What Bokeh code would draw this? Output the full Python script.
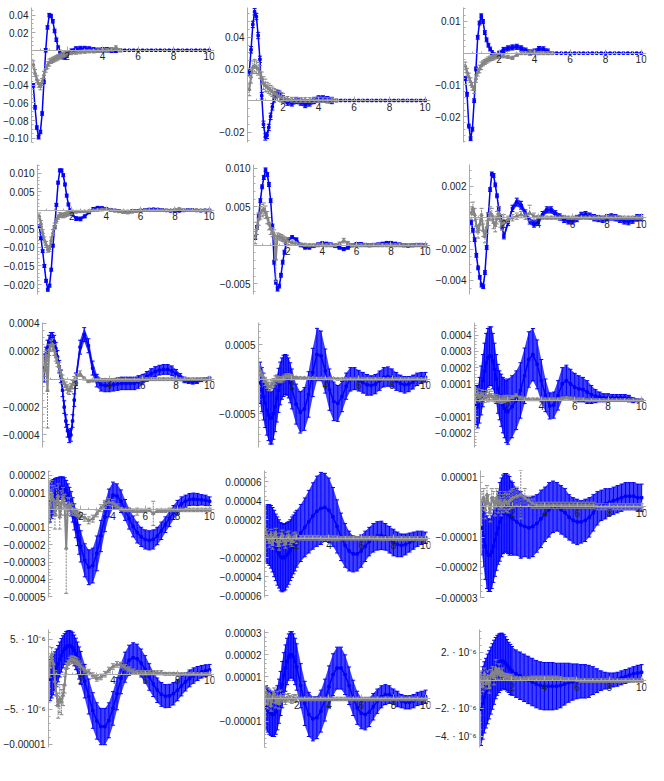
import numpy as np
from bokeh.plotting import figure
from bokeh.layouts import column, row
from bokeh.models import FixedTicker, Range1d
from bokeh.embed import file_html
from bokeh.resources import INLINE

N = float("nan")

X = [0.1, 0.2, 0.3, 0.4, 0.5, 0.6, 0.7, 0.8, 0.9, 1.0,
     1.1, 1.2, 1.3, 1.4, 1.5, 1.6, 1.7, 1.8, 1.9, 2.0,
     2.25, 2.5, 2.75, 3.0, 3.25, 3.5, 3.75, 4.0, 4.25, 4.5,
     4.75, 5.0, 5.25, 5.5, 5.75, 6.0, 6.25, 6.5, 6.75, 7.0,
     7.25, 7.5, 7.75, 8.0, 8.25, 8.5, 8.75, 9.0, 9.25, 9.5,
     9.75, 10.0]
X_TICKS = [2, 4, 6, 8, 10]

# ---------------- panel 1 (units 0.01)
P1_BLUE = [-4.0, -6.5, -8.8, -9.9, -9.3, -7.2, -3.6, 0.0, 2.6, 4.0,
           3.9, 3.3, 2.2, 1.2, 0.3, -0.3, -0.6, -0.7, -0.7, -0.5,
           -0.1, 0.15, 0.2, 0.2, 0.15, 0.05, 0.0, 0.05, 0.05, 0.0,
           0.0, 0.0, 0.0, 0.0, 0.0, 0.0, 0.0, 0.0, 0.0, 0.0,
           0.0, 0.0, 0.0, 0.0, 0.0, 0.0, 0.0, 0.0, 0.0, 0.0,
           0.0, 0.0]
P1_BLUE_ERR = [0.2, 0.2, 0.2, 0.2, 0.2, 0.2, 0.2, 0.2, 0.2, 0.2,
               0.2, 0.2, 0.2, 0.2, 0.2, 0.3, 0.3, 0.3, 0.3, 0.3,
               0.25, 0.25, 0.25, 0.25, 0.25, 0.25, 0.25, 0.25, 0.25, 0.25,
               0.25, 0.0, 0.0, 0.0, 0.0, 0.0, 0.0, 0.0, 0.0, 0.0,
               0.0, 0.0, 0.0, 0.0, 0.0, 0.0, 0.0, 0.0, 0.0, 0.0,
               0.0, 0.0]
P1_GRAY = [-1.6, -2.6, -3.3, -3.8, -4.1, -3.6, -2.8, -2.1, -1.7, -1.4,
           -1.2, -1.1, -1.0, -0.9, -0.8, -0.7, -0.6, -0.5, -0.4, -0.4,
           -0.3, -0.25, -0.2, -0.15, -0.1, -0.1, -0.05, 0.0, 0.0, 0.1,
           0.3, 0.0, N, N, N, N, N, N, N, N,
           N, N, N, N, N, N, N, N, N, N,
           N, N]
P1_GRAY_ERR = [0.4, 0.4, 0.4, 0.4, 0.4, 0.4, 0.4, 0.4, 0.4, 0.4,
               0.3, 0.3, 0.3, 0.3, 0.3, 0.3, 0.3, 0.3, 0.3, 0.3,
               0.2, 0.2, 0.2, 0.2, 0.2, 0.2, 0.2, 0.2, 0.2, 0.2,
               0.2, 0.2, N, N, N, N, N, N, N, N,
               N, N, N, N, N, N, N, N, N, N,
               N, N]
P1_YTICKS = [4, 2, -2, -4, -6, -8, -10]
P1_YLABELS = ["0.04", "0.02", "−0.02", "−0.04", "−0.06", "−0.08", "−0.10"]
P1_YRANGE = (-10.5, 4.87)

# ---------------- panel 2 (units 0.01)
P2_BLUE = [1.8, 3.2, 4.8, 5.6, 5.3, 4.1, 2.6, 0.3, -1.5, -2.3,
           -2.2, -1.7, -1.0, -0.4, 0.1, 0.35, 0.45, 0.4, 0.25, 0.1,
           -0.1, -0.15, 0.0, -0.1, -0.25, -0.15, 0.0, 0.1, 0.1, 0.05,
           0.0, 0.0, 0.0, 0.0, 0.0, 0.0, 0.0, 0.0, 0.0, 0.0,
           0.0, 0.0, 0.0, 0.0, 0.0, 0.0, 0.0, 0.0, 0.0, 0.0,
           0.0, 0.0]
P2_BLUE_ERR = [0.2, 0.2, 0.2, 0.2, 0.2, 0.2, 0.2, 0.2, 0.2, 0.2,
               0.2, 0.2, 0.2, 0.2, 0.2, 0.2, 0.2, 0.2, 0.2, 0.2,
               0.2, 0.2, 0.2, 0.2, 0.2, 0.2, 0.2, 0.2, 0.2, 0.2,
               0.2, 0.0, 0.0, 0.0, 0.0, 0.0, 0.0, 0.0, 0.0, 0.0,
               0.0, 0.0, 0.0, 0.0, 0.0, 0.0, 0.0, 0.0, 0.0, 0.0,
               0.0, 0.0]
P2_GRAY = [0.7, 1.5, 2.1, 2.2, 2.1, 2.0, 1.8, 1.4, 1.1, 0.95,
           0.85, 0.75, 0.65, 0.55, 0.45, 0.4, 0.3, 0.25, 0.2, 0.15,
           0.1, 0.05, 0.03, 0.03, 0.03, 0.03, 0.03, 0.03, 0.03, 0.03,
           0.03, 0.0, N, N, N, N, N, N, N, N,
           N, N, N, N, N, N, N, N, N, N,
           N, N]
P2_GRAY_ERR = [0.4, 0.4, 0.4, 0.4, 0.4, 0.4, 0.4, 0.4, 0.4, 0.4,
               0.3, 0.3, 0.3, 0.3, 0.3, 0.3, 0.3, 0.3, 0.3, 0.3,
               0.15, 0.15, 0.15, 0.15, 0.15, 0.15, 0.15, 0.15, 0.15, 0.15,
               0.15, 0.1, N, N, N, N, N, N, N, N,
               N, N, N, N, N, N, N, N, N, N,
               N, N]
P2_YTICKS = [4, 2, -2]
P2_YLABELS = ["0.04", "0.02", "−0.02"]
P2_YRANGE = (-2.65, 5.87)

# ---------------- panel 3 (units 0.01)
P3_BLUE = [-0.8, -1.3, -2.3, -2.7, -2.4, -1.5, -0.5, 0.5, 0.95, 1.18,
           1.0, 0.65, 0.42, 0.25, 0.13, 0.02, -0.05, -0.1, -0.07, 0.0,
           0.1, 0.15, 0.18, 0.2, 0.15, 0.08, 0.02, 0.05, 0.13, 0.12,
           0.05, 0.0, 0.0, 0.0, 0.0, 0.0, 0.0, 0.0, 0.0, 0.0,
           0.0, 0.0, 0.0, 0.0, 0.0, 0.0, 0.0, 0.0, 0.0, 0.0,
           0.0, 0.0]
P3_BLUE_ERR = [0.06, 0.06, 0.06, 0.06, 0.06, 0.06, 0.06, 0.06, 0.06, 0.06,
               0.06, 0.06, 0.06, 0.06, 0.06, 0.06, 0.06, 0.06, 0.06, 0.06,
               0.08, 0.08, 0.08, 0.08, 0.08, 0.08, 0.08, 0.08, 0.08, 0.08,
               0.08, 0.0, 0.0, 0.0, 0.0, 0.0, 0.0, 0.0, 0.0, 0.0,
               0.0, 0.0, 0.0, 0.0, 0.0, 0.0, 0.0, 0.0, 0.0, 0.0,
               0.0, 0.0]
P3_GRAY = [-0.4, -0.6, -0.75, -0.9, -1.05, -1.15, -0.8, -0.6, -0.5, -0.4,
           -0.32, -0.28, -0.24, -0.2, -0.17, -0.15, -0.13, -0.1, -0.09, -0.08,
           -0.1, -0.12, -0.15, -0.05, 0.0, 0.0, 0.02, 0.02, 0.0, 0.0,
           0.0, 0.0, N, N, N, N, N, N, N, N,
           N, N, N, N, N, N, N, N, N, N,
           N, N]
P3_GRAY_ERR = [0.12, 0.12, 0.12, 0.12, 0.12, 0.12, 0.12, 0.12, 0.12, 0.12,
               0.08, 0.08, 0.08, 0.08, 0.08, 0.08, 0.08, 0.08, 0.08, 0.08,
               0.05, 0.05, 0.05, 0.05, 0.05, 0.05, 0.05, 0.05, 0.05, 0.05,
               0.05, 0.05, N, N, N, N, N, N, N, N,
               N, N, N, N, N, N, N, N, N, N,
               N, N]
P3_YTICKS = [1, -1, -2]
P3_YLABELS = ["0.01", "−0.01", "−0.02"]
P3_YRANGE = (-2.82, 1.44)

# ---------------- panel 4 (units 0.001)
P4_BLUE = [-4.3, -7.5, -11.0, -15.0, -19.0, -21.4, -20.3, -16.0, -9.5, -4.5,
           1.5, 7.5, 10.8, 10.8, 9.5, 7.0, 4.0, 1.6, 0.0, -1.0,
           -2.2, -2.3, -1.6, -0.5, 0.4, 0.7, 0.6, 0.4, 0.2, 0.0,
           -0.2, -0.3, -0.3, -0.2, -0.1, 0.0, 0.1, 0.25, 0.3, 0.25,
           0.1, 0.0, -0.1, -0.15, -0.1, 0.0, 0.1, 0.1, 0.0, -0.05,
           0.0, 0.0]
P4_BLUE_ERR = [0.4, 0.4, 0.4, 0.4, 0.4, 0.4, 0.4, 0.4, 0.4, 0.4,
               0.4, 0.4, 0.4, 0.4, 0.4, 0.4, 0.4, 0.4, 0.4, 0.4,
               0.5, 0.5, 0.4, 0.4, 0.4, 0.4, 0.4, 0.4, 0.3, 0.3,
               0.3, 0.3, 0.3, 0.3, 0.3, 0.3, 0.3, 0.3, 0.3, 0.3,
               0.3, 0.3, 0.3, 0.3, 0.3, 0.3, 0.3, 0.3, 0.3, 0.3,
               0.3, 0.3]
P4_GRAY = [-1.5, -3.5, -6.0, -8.0, -9.2, -10.5, -10.3, -8.0, -6.0, -4.2,
           -2.8, -1.8, -1.2, -1.3, -1.4, -1.2, -1.0, -0.8, -0.6, -0.5,
           -0.4, -0.3, -0.3, -0.2, 0.0, 0.1, 0.2, 0.3, 0.1, -0.1,
           -0.3, -0.5, -0.6, -0.4, -0.2, -0.1, 0.0, 0.0, 0.0, 0.0,
           0.0, 0.0, 0.0, 0.2, 0.4, 0.1, 0.0, 0.0, 0.0, 0.0,
           0.0, 0.0]
P4_GRAY_ERR = [0.8, 0.8, 0.8, 0.8, 0.8, 0.8, 0.8, 0.8, 0.8, 0.8,
               0.6, 0.6, 0.6, 0.6, 0.6, 0.6, 0.6, 0.6, 0.6, 0.6,
               0.3, 0.3, 0.3, 0.3, 0.3, 0.3, 0.3, 0.3, 0.3, 0.3,
               0.3, 0.3, 0.3, 0.3, 0.3, 0.3, 0.3, 0.3, 0.3, 0.3,
               0.3, 0.3, 0.3, 0.3, 0.3, 0.3, 0.3, 0.3, 0.3, 0.3,
               0.3, 0.3]
P4_YTICKS = [10, 5, -5, -10, -15, -20]
P4_YLABELS = ["0.010", "0.005", "−0.005", "−0.010", "−0.015", "−0.020"]
P4_YRANGE = (-22.7, 12.4)

# ---------------- panel 5 (units 0.001)
P5_BLUE = [1.0, 2.3, 3.8, 5.8, 7.6, 8.8, 9.8, 9.2, 7.9, 5.8,
           2.5, -2.2, -4.8, -5.7, -5.3, -3.9, -2.2, -0.9, 0.2, 0.7,
           1.05, 0.75, 0.0, -0.3, -0.3, -0.1, 0.1, 0.25, 0.2, 0.1,
           -0.1, -0.3, -0.5, -0.3, 0.0, 0.15, 0.15, 0.05, 0.0, 0.05,
           0.1, 0.2, 0.3, 0.3, 0.2, 0.1, 0.0, -0.05, 0.0, 0.05,
           0.05, 0.0]
P5_BLUE_ERR = [0.25, 0.25, 0.25, 0.25, 0.25, 0.25, 0.25, 0.25, 0.25, 0.25,
               0.25, 0.25, 0.25, 0.25, 0.25, 0.25, 0.25, 0.25, 0.25, 0.25,
               0.2, 0.2, 0.2, 0.2, 0.2, 0.2, 0.2, 0.2, 0.2, 0.2,
               0.2, 0.2, 0.2, 0.2, 0.2, 0.2, 0.2, 0.2, 0.2, 0.2,
               0.2, 0.2, 0.2, 0.2, 0.2, 0.2, 0.2, 0.2, 0.2, 0.2,
               0.2, 0.2]
P5_GRAY = [1.0, 2.2, 3.4, 4.2, 4.5, 4.7, 4.3, 3.6, 2.8, 2.2,
           1.7, 1.4, -1.8, 1.2, 1.1, 1.0, 0.9, 0.7, 0.6, 0.5,
           0.35, 0.2, 0.1, 0.05, 0.0, 0.0, 0.0, 0.05, 0.0, 0.0,
           0.0, 0.2, 0.6, 0.3, 0.0, 0.0, 0.0, 0.0, 0.0, 0.0,
           0.0, 0.0, 0.0, 0.0, 0.0, 0.0, 0.0, 0.0, 0.0, 0.0,
           0.0, 0.0]
P5_GRAY_ERR = [0.8, 0.8, 0.8, 0.8, 0.8, 0.8, 0.8, 0.8, 0.8, 0.8,
               0.6, 0.6, 2.9, 0.4, 0.4, 0.4, 0.4, 0.4, 0.4, 0.4,
               0.2, 0.2, 0.2, 0.2, 0.2, 0.2, 0.2, 0.2, 0.2, 0.2,
               0.2, 0.2, 0.3, 0.2, 0.2, 0.2, 0.2, 0.2, 0.2, 0.2,
               0.2, 0.2, 0.2, 0.2, 0.2, 0.2, 0.2, 0.2, 0.2, 0.2,
               0.2, 0.2]
P5_YTICKS = [10, 5, -5]
P5_YLABELS = ["0.010", "0.005", "−0.005"]
P5_YRANGE = (-6.4, 10.5)

# ---------------- panel 6 (units 0.001)
P6_BLUE = [-0.3, -0.8, -1.4, -2.4, -3.2, -3.8, -4.3, -4.4, -3.5, -1.9,
           0.2, 1.8, 2.8, 2.7, 2.1, 1.4, 0.6, 0.0, -0.6, -1.2,
           -0.3, 0.6, 1.0, 0.8, 0.3, -0.2, -0.4, -0.3, 0.2, 0.5,
           0.5, 0.25, 0.05, -0.1, -0.2, -0.2, -0.05, 0.15, 0.2, 0.1,
           0.0, -0.05, -0.1, 0.0, 0.05, 0.0, -0.1, -0.2, -0.25, -0.15,
           0.0, 0.0]
P6_BLUE_ERR = [0.12, 0.12, 0.12, 0.12, 0.12, 0.12, 0.12, 0.12, 0.12, 0.12,
               0.12, 0.12, 0.12, 0.12, 0.12, 0.12, 0.12, 0.12, 0.12, 0.15,
               0.2, 0.2, 0.25, 0.25, 0.2, 0.2, 0.2, 0.2, 0.2, 0.2,
               0.2, 0.2, 0.2, 0.2, 0.2, 0.2, 0.2, 0.2, 0.2, 0.2,
               0.2, 0.2, 0.2, 0.2, 0.2, 0.2, 0.2, 0.2, 0.2, 0.2,
               0.2, 0.2]
P6_GRAY = [0.3, 0.6, 0.2, -0.5, -0.9, -0.4, 0.2, -0.8, -1.2, -0.6,
           -0.1, 0.3, 0.2, -0.3, -0.5, 0.0, 0.3, -0.2, -0.4, -0.2,
           -0.1, 0.0, 0.1, 0.2, 0.1, 0.3, 0.1, 0.05, 0.0, 0.0,
           0.0, 0.0, 0.0, 0.05, 0.0, 0.0, 0.0, 0.0, 0.0, 0.0,
           0.0, 0.0, 0.0, 0.05, 0.0, 0.0, 0.0, 0.0, 0.0, 0.0,
           0.0, 0.0]
P6_GRAY_ERR = [0.4, 0.4, 0.4, 0.4, 0.4, 0.4, 0.4, 0.4, 0.4, 0.4,
               0.4, 0.4, 0.4, 0.4, 0.4, 0.4, 0.4, 0.4, 0.4, 0.4,
               0.2, 0.2, 0.2, 0.2, 0.2, 0.5, 0.2, 0.1, 0.1, 0.1,
               0.1, 0.1, 0.1, 0.1, 0.1, 0.1, 0.1, 0.1, 0.1, 0.1,
               0.1, 0.1, 0.1, 0.1, 0.1, 0.1, 0.1, 0.1, 0.1, 0.1,
               0.1, 0.1]
P6_YTICKS = [2, -2, -4]
P6_YLABELS = ["0.002", "−0.002", "−0.004"]
P6_YRANGE = (-4.9, 3.4)

# ---------------- panel 7 (units 0.0001)
P7_BLUE = [0.8, 1.5, 2.2, 2.7, 2.9, 2.9, 2.7, 2.2, 1.6, 0.9,
           0.2, -0.8, -2.0, -3.0, -3.7, -4.1, -4.0, -3.0, -1.5, 0.0,
           2.3, 3.2, 2.4, 0.8, -0.1, -0.4, -0.45, -0.45, -0.4, -0.35,
           -0.3, -0.3, -0.3, -0.3, -0.2, 0.0, 0.2, 0.4, 0.55, 0.65,
           0.7, 0.7, 0.6, 0.4, 0.15, -0.05, -0.15, -0.2, -0.15, -0.05,
           0.0, 0.05]
P7_BLUE_ERR = [1.0, 0.8, 0.6, 0.45, 0.45, 0.45, 0.45, 0.45, 0.45, 0.45,
               0.45, 0.45, 0.45, 0.45, 0.45, 0.45, 0.45, 0.45, 0.45, 0.45,
               0.5, 0.5, 0.5, 0.5, 0.45, 0.45, 0.45, 0.45, 0.45, 0.45,
               0.45, 0.45, 0.45, 0.45, 0.45, 0.35, 0.35, 0.35, 0.35, 0.35,
               0.35, 0.35, 0.35, 0.3, 0.25, 0.2, 0.15, 0.15, 0.15, 0.12,
               0.1, 0.1]
P7_GRAY = [0.6, 1.7, -0.8, 2.1, 2.4, 2.5, 2.1, 1.6, 1.2, 0.9,
           0.4, 0.0, -0.3, -0.5, -0.7, -0.8, -0.6, -0.4, -0.1, 0.1,
           0.4, 0.05, -0.15, -0.1, -0.05, -0.05, -0.05, -0.05, -0.05, -0.05,
           -0.05, -0.05, -0.05, -0.05, -0.05, 0.0, 0.0, 0.0, 0.0, 0.0,
           0.0, 0.0, 0.0, 0.0, 0.0, 0.0, 0.0, 0.0, 0.0, 0.0,
           0.0, 0.0]
P7_GRAY_ERR = [0.4, 0.4, 2.7, 0.4, 0.4, 0.4, 0.4, 0.3, 0.3, 0.3,
               0.3, 0.3, 0.3, 0.3, 0.3, 0.3, 0.3, 0.3, 0.3, 0.3,
               0.2, 0.1, 0.1, 0.1, 0.1, 0.1, 0.1, 0.1, 0.1, 0.1,
               0.1, 0.1, 0.1, 0.1, 0.1, 0.1, 0.1, 0.1, 0.1, 0.1,
               0.1, 0.1, 0.1, 0.1, 0.1, 0.1, 0.1, 0.1, 0.1, 0.1,
               0.1, 0.1]
P7_YTICKS = [4, 2, -2, -4]
P7_YLABELS = ["0.0004", "0.0002", "−0.0002", "−0.0004"]
P7_YRANGE = (-4.9, 4.07)

# ---------------- panel 8 (units 0.0001)
P8_BLUE = [-0.5, -1.5, -2.5, -3.5, -4.5, -5.2, -5.6, -5.6, -5.0, -4.0,
           -2.8, -1.6, -0.6, 0.1, 0.5, 0.7, 0.6, 0.2, -0.5, -1.4,
           -3.6, -4.8, -4.3, -2.2, 1.0, 3.6, 3.4, 1.2, -1.5, -3.2,
           -3.5, -2.5, -1.0, 0.0, 0.1, -0.2, -0.5, -0.8, -0.9, -0.7,
           -0.2, 0.3, 0.4, 0.2, -0.3, -0.6, -0.8, -0.7, -0.4, 0.0,
           0.2, 0.3]
P8_BLUE_ERR = [3.0, 3.2, 3.4, 3.5, 3.6, 3.7, 3.8, 3.8, 3.7, 3.6,
               3.4, 3.2, 3.1, 3.0, 3.0, 2.9, 2.9, 2.9, 2.9, 2.9,
               2.9, 3.0, 3.1, 3.3, 3.5, 3.8, 3.6, 3.2, 3.0, 2.8,
               2.6, 2.2, 1.9, 1.7, 1.6, 1.5, 1.5, 1.5, 1.4, 1.4,
               1.4, 1.4, 1.4, 1.3, 1.3, 1.2, 1.2, 1.1, 1.0, 0.9,
               0.8, 0.7]
P8_GRAY = [1.2, 0.6, 0.2, -0.3, -0.7, -1.0, -1.1, -0.8, -0.5, -0.1,
           0.1, 0.0, -0.1, 0.0, 0.2, 0.35, 0.4, 0.4, 0.35, 0.3,
           0.25, 0.2, 0.2, 0.15, 0.15, 0.1, 0.1, 0.1, 0.1, 0.1,
           0.05, 0.05, 0.05, 0.05, 0.05, 0.05, 0.05, 0.05, 0.05, 0.05,
           0.05, 0.05, 0.05, 0.05, 0.05, 0.05, 0.05, 0.05, 0.05, 0.05,
           0.05, 0.05]
P8_GRAY_ERR = [0.6, 0.6, 0.6, 0.6, 0.6, 0.6, 0.6, 0.6, 0.6, 0.6,
               0.4, 0.4, 0.4, 0.4, 0.4, 0.4, 0.4, 0.4, 0.4, 0.4,
               0.15, 0.15, 0.15, 0.15, 0.15, 0.15, 0.15, 0.15, 0.15, 0.15,
               0.15, 0.15, 0.15, 0.15, 0.15, 0.15, 0.15, 0.15, 0.15, 0.15,
               0.15, 0.15, 0.15, 0.15, 0.15, 0.15, 0.15, 0.15, 0.15, 0.15,
               0.15, 0.15]
P8_YTICKS = [5, -5]
P8_YLABELS = ["0.0005", "−0.0005"]
P8_YRANGE = (-9.9, 8.25)

# ---------------- panel 9 (units 0.0001)
P9_BLUE = [-0.3, -0.4, 0.0, 0.6, 1.2, 1.8, 2.3, 2.6, 2.7, 2.7,
           2.4, 1.9, 1.3, 0.7, 0.3, 0.0, -0.3, -0.5, -0.7, -0.7,
           -0.4, 0.0, 0.6, 1.5, 2.5, 2.8, 2.2, 1.2, 0.3, -0.35,
           -0.3, 0.3, 1.0, 1.2, 1.0, 0.8, 0.7, 0.65, 0.5, 0.35,
           0.25, 0.2, 0.15, 0.15, 0.15, 0.15, 0.15, 0.15, 0.1, 0.0,
           0.0, 0.0]
P9_BLUE_ERR = [1.2, 1.3, 1.4, 1.5, 1.6, 1.7, 1.8, 1.8, 1.8, 1.8,
               1.7, 1.6, 1.5, 1.5, 1.5, 1.6, 1.7, 1.8, 1.9, 2.0,
               1.9, 1.8, 1.7, 1.7, 1.7, 1.6, 1.5, 1.3, 1.0, 0.8,
               0.8, 0.9, 1.0, 0.95, 0.9, 0.85, 0.8, 0.75, 0.7, 0.55,
               0.4, 0.3, 0.25, 0.25, 0.2, 0.2, 0.2, 0.2, 0.2, 0.15,
               0.1, 0.05]
P9_GRAY = [0.3, 0.4, 0.2, 0.35, 0.3, 0.15, 0.3, 0.2, 0.35, 0.25,
           0.2, 0.1, 0.15, 0.05, 0.1, 0.0, 0.05, 0.1, 0.05, 0.1,
           0.2, 0.3, 0.15, 0.1, 0.05, 0.05, 0.05, 0.05, 0.05, 0.05,
           0.05, 0.05, 0.1, 0.15, 0.1, 0.05, 0.05, 0.05, 0.0, 0.0,
           0.0, 0.0, 0.0, 0.0, 0.0, 0.0, 0.0, 0.0, 0.0, 0.0,
           0.0, 0.0]
P9_GRAY_ERR = [0.3, 0.3, 0.3, 0.3, 0.3, 0.3, 0.3, 0.3, 0.3, 0.3,
               0.2, 0.2, 0.2, 0.2, 0.2, 0.2, 0.2, 0.2, 0.2, 0.2,
               0.08, 0.08, 0.08, 0.08, 0.08, 0.08, 0.08, 0.08, 0.08, 0.08,
               0.08, 0.08, 0.08, 0.08, 0.08, 0.08, 0.08, 0.08, 0.08, 0.08,
               0.08, 0.08, 0.08, 0.08, 0.08, 0.08, 0.08, 0.08, 0.08, 0.08,
               0.08, 0.08]
P9_YTICKS = [4, 3, 2, 1, -1, -2]
P9_YLABELS = ["0.0004", "0.0003", "0.0002", "0.0001", "−0.0001", "−0.0002"]
P9_YRANGE = (-2.9, 4.77)

# ---------------- panel 10 (units 0.00001)
P10_BLUE = [0.45, 0.6, 0.75, 0.9, 1.05, 1.15, 1.25, 1.3, 1.3, 1.25,
            1.1, 0.9, 0.65, 0.35, 0.0, -0.4, -0.8, -1.25, -1.7, -2.1,
            -2.9, -3.3, -3.2, -2.5, -1.5, -0.4, 0.4, 0.85, 0.8, 0.5,
            0.0, -0.5, -0.95, -1.3, -1.55, -1.7, -1.75, -1.7, -1.5, -1.2,
            -0.85, -0.5, -0.15, 0.15, 0.35, 0.5, 0.6, 0.62, 0.6, 0.58,
            0.55, 0.5]
P10_BLUE_ERR = [1.15, 1.1, 1.0, 0.9, 0.8, 0.7, 0.65, 0.6, 0.6, 0.6,
                0.6, 0.6, 0.65, 0.7, 0.7, 0.75, 0.8, 0.8, 0.85, 0.9,
                0.95, 1.0, 1.0, 1.0, 0.9, 0.85, 0.8, 0.75, 0.7, 0.65,
                0.6, 0.6, 0.6, 0.6, 0.55, 0.55, 0.55, 0.55, 0.5, 0.5,
                0.45, 0.45, 0.4, 0.4, 0.4, 0.35, 0.35, 0.35, 0.35, 0.3,
                0.3, 0.25]
P10_GRAY = [0.3, 0.9, 0.6, -0.3, 0.5, 0.8, -0.4, 0.4, 0.7, 0.3,
            -2.2, 0.2, 0.3, 0.1, 0.0, -0.1, -0.15, -0.2, -0.3, -0.35,
            -0.45, -0.6, -0.5, -0.2, 0.1, 0.35, 0.45, 0.4, 0.2, 0.05,
            0.0, 0.0, -0.05, -0.1, -0.05, -0.05, 0.0, -0.2, -0.05, -0.05,
            -0.05, 0.0, 0.0, 0.0, 0.0, 0.0, 0.0, 0.0, 0.0, 0.0,
            0.0, 0.0]
P10_GRAY_ERR = [0.8, 0.8, 0.8, 0.8, 0.8, 0.7, 0.7, 0.7, 0.6, 0.6,
                2.6, 0.5, 0.4, 0.3, 0.3, 0.2, 0.2, 0.2, 0.2, 0.2,
                0.2, 0.2, 0.2, 0.2, 0.2, 0.2, 0.2, 0.2, 0.15, 0.1,
                0.1, 0.1, 0.1, 0.2, 0.1, 0.1, 0.1, 0.7, 0.1, 0.1,
                0.1, 0.1, 0.1, 0.1, 0.1, 0.1, 0.1, 0.1, 0.1, 0.1,
                0.1, 0.1]
P10_YTICKS = [2, 1, -1, -2, -3, -4, -5]
P10_YLABELS = ["0.00002", "0.00001", "−0.00001", "−0.00002", "−0.00003", "−0.00004", "−0.00005"]
P10_YRANGE = (-5.04, 2.27)

# ---------------- panel 11 (units 0.00001)
P11_BLUE = [0.5, 0.5, 0.4, 0.2, -0.1, -0.5, -0.9, -1.3, -1.6, -1.9,
            -2.0, -2.0, -1.9, -1.7, -1.5, -1.2, -0.9, -0.6, -0.3, 0.0,
            0.6, 1.2, 1.8, 2.4, 2.9, 3.2, 3.3, 3.0, 2.3, 1.3,
            0.2, -0.7, -1.3, -1.6, -1.6, -1.3, -0.8, -0.3, 0.1, 0.3,
            0.35, 0.2, -0.1, -0.4, -0.6, -0.7, -0.6, -0.4, -0.2, 0.0,
            0.1, 0.1]
P11_BLUE_ERR = [3.0, 3.1, 3.2, 3.3, 3.4, 3.5, 3.5, 3.6, 3.6, 3.6,
                3.6, 3.5, 3.5, 3.4, 3.3, 3.2, 3.2, 3.1, 3.1, 3.0,
                3.0, 3.1, 3.3, 3.5, 3.7, 3.8, 3.6, 3.4, 3.1, 2.8,
                2.5, 2.3, 2.1, 1.9, 1.8, 1.7, 1.6, 1.5, 1.5, 1.5,
                1.5, 1.4, 1.4, 1.4, 1.3, 1.2, 1.1, 1.0, 0.9, 0.8,
                0.7, 0.6]
P11_GRAY = [0.6, 0.3, -0.4, 0.5, -0.6, 0.2, 0.6, -0.3, -0.7, 0.1,
            0.4, -0.2, -0.5, 0.2, 0.3, -0.1, -0.3, 0.1, 0.2, 0.0,
            0.1, 0.1, 0.1, 0.1, 0.1, 0.05, 0.05, 0.05, 0.05, 0.05,
            0.05, 0.05, 0.05, 0.05, 0.05, 0.05, 0.05, 0.05, 0.05, 0.05,
            0.0, 0.0, 0.0, 0.0, 0.0, 0.0, 0.0, 0.0, 0.0, 0.0,
            0.0, 0.0]
P11_GRAY_ERR = [0.5, 0.5, 0.5, 0.5, 0.5, 0.5, 0.5, 0.5, 0.5, 0.5,
                0.5, 0.5, 0.5, 0.5, 0.5, 0.5, 0.5, 0.5, 0.5, 0.5,
                0.25, 0.25, 0.25, 0.25, 0.25, 0.25, 0.25, 0.25, 0.25, 0.25,
                0.2, 0.2, 0.2, 0.2, 0.2, 0.2, 0.2, 0.2, 0.2, 0.2,
                0.2, 0.2, 0.2, 0.2, 0.2, 0.2, 0.2, 0.2, 0.2, 0.2,
                0.2, 0.2]
P11_YTICKS = [6, 4, 2, -2, -4, -6]
P11_YLABELS = ["0.00006", "0.00004", "0.00002", "−0.00002", "−0.00004", "−0.00006"]
P11_YRANGE = (-6.2, 7.2)

# ---------------- panel 12 (units 0.00001)
P12_BLUE = [-0.7, -1.0, -1.3, -1.5, -1.6, -1.6, -1.5, -1.3, -1.1, -0.9,
            -0.7, -0.5, -0.35, -0.25, -0.2, -0.2, -0.25, -0.3, -0.35, -0.4,
            -0.5, -0.6, -0.65, -0.7, -0.65, -0.55, -0.4, -0.25, -0.1, 0.0,
            0.0, -0.1, -0.2, -0.35, -0.45, -0.5, -0.5, -0.45, -0.35, -0.2,
            -0.05, 0.05, 0.1, 0.15, 0.2, 0.25, 0.3, 0.35, 0.35, 0.35,
            0.3, 0.3]
P12_BLUE_ERR = [0.9, 1.0, 1.1, 1.2, 1.2, 1.2, 1.2, 1.2, 1.2, 1.2,
                1.2, 1.3, 1.3, 1.3, 1.3, 1.3, 1.3, 1.3, 1.2, 1.2,
                1.1, 1.1, 1.0, 1.0, 1.0, 0.95, 0.95, 0.9, 0.9, 0.85,
                0.8, 0.8, 0.8, 0.75, 0.75, 0.75, 0.7, 0.7, 0.65, 0.6,
                0.55, 0.5, 0.5, 0.45, 0.45, 0.45, 0.45, 0.45, 0.45, 0.45,
                0.45, 0.45]
P12_GRAY = [0.2, 0.3, -0.1, 0.4, 0.1, -0.2, 0.3, 0.2, 0.0, 0.3,
            0.1, 0.2, 0.0, 0.1, 0.2, 0.15, 0.1, 0.2, 0.25, 0.3,
            0.35, 0.4, 0.3, 0.2, 0.1, 0.05, 0.05, 0.05, 0.05, 0.05,
            0.05, 0.05, 0.05, 0.05, 0.05, 0.05, 0.05, 0.05, 0.05, 0.05,
            0.0, 0.0, 0.0, 0.0, 0.0, 0.0, 0.0, 0.0, 0.0, 0.0,
            0.0, 0.0]
P12_GRAY_ERR = [0.3, 0.3, 0.3, 0.3, 0.3, 0.3, 0.3, 0.3, 0.3, 0.3,
                0.3, 0.3, 0.3, 0.3, 0.3, 0.3, 0.3, 0.3, 0.3, 0.3,
                0.3, 0.8, 0.3, 0.15, 0.15, 0.1, 0.1, 0.1, 0.1, 0.1,
                0.1, 0.1, 0.1, 0.1, 0.1, 0.1, 0.1, 0.1, 0.1, 0.1,
                0.1, 0.1, 0.1, 0.1, 0.1, 0.1, 0.1, 0.1, 0.1, 0.1,
                0.1, 0.1]
P12_YTICKS = [1, -1, -2, -3]
P12_YLABELS = ["0.00001", "−0.00001", "−0.00002", "−0.00003"]
P12_YRANGE = (-3.0, 1.2)

# ---------------- panel 13 (units 1e-6)
P13_BLUE = [-0.85, -0.5, -0.1, 0.4, 0.9, 1.5, 2.1, 2.7, 3.2, 3.6,
            3.9, 4.05, 4.1, 4.0, 3.8, 3.4, 2.9, 2.3, 1.6, 0.9,
            -1.0, -3.2, -5.2, -6.7, -7.5, -7.5, -6.6, -4.9, -2.8, -0.6,
            1.0, 2.0, 2.35, 2.2, 1.6, 0.7, -0.4, -1.4, -2.3, -2.9,
            -3.15, -3.1, -2.8, -2.3, -1.7, -1.1, -0.6, -0.2, 0.1, 0.35,
            0.5, 0.6]
P13_BLUE_ERR = [2.95, 2.9, 2.85, 2.8, 2.7, 2.6, 2.5, 2.4, 2.3, 2.2,
                2.2, 2.15, 2.15, 2.15, 2.2, 2.2, 2.25, 2.3, 2.3, 2.35,
                2.4, 2.5, 2.55, 2.6, 2.6, 2.6, 2.5, 2.4, 2.3, 2.2,
                2.15, 2.15, 2.15, 2.1, 2.0, 1.95, 1.9, 1.8, 1.75, 1.7,
                1.65, 1.65, 1.6, 1.5, 1.4, 1.3, 1.2, 1.1, 1.0, 0.9,
                0.85, 0.8]
P13_GRAY = [1.0, 2.8, 1.5, -1.0, -3.0, -4.5, -3.5, -4.0, -3.0, -1.5,
            0.8, 1.4, 1.9, 2.1, 2.1, 2.0, 1.9, 1.7, 1.4, 1.1,
            0.6, 0.3, -0.2, -0.6, -0.4, 0.0, 0.6, 1.1, 1.4, 1.3,
            1.0, 0.7, 0.4, 0.25, 0.2, 0.2, 0.2, 0.2, 0.2, 0.2,
            0.05, 0.05, 0.05, 0.05, 0.0, 0.0, 0.0, 0.0, 0.0, 0.0,
            0.0, 0.0]
P13_GRAY_ERR = [1.5, 1.0, 1.5, 1.5, 1.5, 1.8, 2.0, 1.8, 1.5, 1.2,
                0.8, 0.6, 0.5, 0.5, 0.5, 0.5, 0.5, 0.5, 0.5, 0.5,
                0.4, 0.4, 0.4, 0.4, 0.4, 0.4, 0.4, 0.4, 0.4, 0.4,
                0.4, 0.35, 0.35, 0.3, 0.3, 0.3, 0.3, 0.3, 0.3, 0.3,
                0.2, 0.2, 0.2, 0.2, 0.2, 0.2, 0.2, 0.2, 0.2, 0.2,
                0.2, 0.2]
P13_YTICKS = [5, -5, -10]
P13_YLABELS = ["5. · 10⁻⁶", "−5. · 10⁻⁶", "−0.00001"]
P13_YRANGE = (-10.5, 6.4)

# ---------------- panel 14 (units 0.00001)
P14_BLUE = [-0.4, -0.5, -0.6, -0.65, -0.7, -0.7, -0.6, -0.4, -0.1, 0.25,
            0.65, 1.05, 1.4, 1.7, 1.9, 2.0, 2.0, 1.9, 1.7, 1.45,
            0.6, -0.2, -0.7, -0.9, -0.85, -0.55, -0.05, 0.55, 1.1, 1.4,
            1.4, 1.1, 0.6, 0.05, -0.4, -0.65, -0.7, -0.6, -0.35, -0.1,
            0.1, 0.2, 0.2, 0.1, 0.0, -0.1, -0.15, -0.15, -0.1, 0.0,
            0.05, 0.1]
P14_BLUE_ERR = [1.0, 1.0, 1.0, 1.0, 1.0, 1.0, 1.0, 1.0, 1.0, 1.0,
                1.05, 1.05, 1.05, 1.05, 1.05, 1.05, 1.05, 1.05, 1.05, 1.05,
                1.0, 1.0, 1.0, 1.0, 0.95, 0.95, 0.95, 0.95, 0.95, 0.95,
                0.95, 0.9, 0.85, 0.8, 0.75, 0.7, 0.7, 0.65, 0.6, 0.55,
                0.5, 0.45, 0.4, 0.35, 0.35, 0.3, 0.3, 0.3, 0.3, 0.3,
                0.3, 0.3]
P14_GRAY = [0.3, -0.2, 0.2, -0.3, 0.1, 0.25, -0.15, 0.1, -0.2, 0.15,
            0.0, 0.1, -0.1, 0.05, 0.1, 0.0, -0.05, 0.05, 0.0, 0.05,
            0.0, 0.0, 0.0, 0.0, 0.0, 0.0, 0.0, 0.0, 0.0, 0.0,
            0.0, 0.0, 0.0, 0.0, 0.0, 0.0, 0.0, 0.0, 0.0, 0.0,
            0.0, 0.0, 0.0, 0.0, 0.0, 0.0, 0.0, 0.0, 0.0, 0.0,
            0.0, 0.0]
P14_GRAY_ERR = [0.25, 0.25, 0.25, 0.25, 0.25, 0.25, 0.25, 0.25, 0.25, 0.25,
                0.15, 0.15, 0.15, 0.15, 0.15, 0.15, 0.15, 0.15, 0.15, 0.15,
                0.08, 0.08, 0.08, 0.08, 0.08, 0.08, 0.08, 0.08, 0.08, 0.08,
                0.08, 0.08, 0.08, 0.08, 0.08, 0.08, 0.08, 0.08, 0.08, 0.08,
                0.08, 0.08, 0.08, 0.08, 0.08, 0.08, 0.08, 0.08, 0.08, 0.08,
                0.08, 0.08]
P14_YTICKS = [3, 2, 1, -1]
P14_YLABELS = ["0.00003", "0.00002", "0.00001", "−0.00001"]
P14_YRANGE = (-2.2, 3.15)

# ---------------- panel 15 (units 1e-6)
P15_BLUE = [-2.05, -1.6, -1.2, -0.9, -0.6, -0.3, 0.0, 0.3, 0.6, 0.9,
            1.1, 1.25, 1.35, 1.4, 1.35, 1.25, 1.1, 0.95, 0.8, 0.7,
            0.5, 0.35, 0.2, 0.05, -0.1, -0.25, -0.35, -0.4, -0.4, -0.4,
            -0.4, -0.35, -0.25, -0.15, -0.1, -0.05, -0.05, -0.05, -0.05, 0.0,
            0.0, 0.0, 0.0, 0.0, 0.05, 0.1, 0.2, 0.3, 0.4, 0.5,
            0.55, 0.6]
P15_BLUE_ERR = [2.6, 2.6, 2.55, 2.5, 2.5, 2.45, 2.4, 2.35, 2.3, 2.2,
                2.15, 2.1, 2.05, 2.0, 1.95, 1.9, 1.85, 1.8, 1.8, 1.75,
                1.7, 1.7, 1.7, 1.7, 1.7, 1.7, 1.7, 1.7, 1.7, 1.7,
                1.65, 1.6, 1.5, 1.4, 1.3, 1.25, 1.2, 1.2, 1.15, 1.0,
                0.85, 0.7, 0.6, 0.55, 0.5, 0.5, 0.5, 0.5, 0.5, 0.5,
                0.55, 0.55]
P15_GRAY = [0.3, -0.4, 0.5, -0.2, 0.3, -0.5, 0.4, 0.6, 0.2, 0.9,
            0.5, 0.8, 0.4, 0.6, 0.35, 0.3, 0.3, 0.25, 0.25, 0.2,
            0.15, 0.15, 0.15, 0.15, 0.2, 0.2, 0.2, 0.2, 0.2, 0.2,
            0.2, 0.15, 0.1, 0.1, 0.1, 0.05, 0.0, 0.0, 0.0, 0.0,
            0.0, 0.0, 0.0, 0.0, 0.0, 0.0, 0.0, 0.0, 0.0, 0.0,
            0.0, 0.0]
P15_GRAY_ERR = [0.4, 0.4, 0.4, 0.4, 0.4, 0.4, 0.4, 0.4, 0.5, 0.6,
                0.4, 0.4, 0.3, 0.3, 0.2, 0.2, 0.2, 0.2, 0.2, 0.2,
                0.12, 0.12, 0.12, 0.12, 0.12, 0.12, 0.12, 0.12, 0.12, 0.12,
                0.12, 0.12, 0.12, 0.12, 0.12, 0.12, 0.12, 0.12, 0.12, 0.12,
                0.12, 0.12, 0.12, 0.12, 0.12, 0.12, 0.12, 0.12, 0.12, 0.12,
                0.12, 0.12]
P15_YTICKS = [2, -2, -4]
P15_YLABELS = ["2. · 10⁻⁶", "−2. · 10⁻⁶", "−4. · 10⁻⁶"]
P15_YRANGE = (-4.8, 3.67)

# ---------------------------------------------------------------- styling
BLUE = "#0000ff"
BAND = "#2a2aff"
GRAY = "#858585"
AXIS = "#aaaaaa"
FONT = "Liberation Sans"


def style_axis(ax):
    ax.axis_line_color = AXIS
    ax.major_tick_line_color = AXIS
    ax.minor_tick_line_color = AXIS
    ax.major_tick_in = 4
    ax.major_tick_out = 0
    ax.minor_tick_in = 2
    ax.minor_tick_out = 0
    ax.major_label_text_font = FONT
    ax.major_label_text_font_size = "10px"
    ax.major_label_text_color = "#222222"


def panel(by, be, gy, ge, yt, yl, yr, minor_step, h, bt, bb):
    x = np.array(X, dtype=float)
    by = np.array(by, dtype=float)
    be = np.array(be, dtype=float)
    gy = np.array(gy, dtype=float)
    ge = np.array(ge, dtype=float)

    p = figure(width=216, height=h, x_range=Range1d(0, 10.3),
               y_range=Range1d(yr[0], yr[1]), output_backend="svg",
               toolbar_location=None, min_border_left=2, min_border_right=2,
               min_border_top=bt, min_border_bottom=bb)
    p.outline_line_color = None
    p.xgrid.visible = False
    p.ygrid.visible = False

    # blue series with error bars
    lo, hi = by - be, by + be
    has = be > 0
    p.varea(x=x, y1=lo, y2=hi, fill_color=BAND, fill_alpha=0.9)
    p.segment(x0=x[has], y0=lo[has], x1=x[has], y1=hi[has], line_color=BLUE, line_width=1)
    p.scatter(x=np.concatenate([x[has], x[has]]), y=np.concatenate([lo[has], hi[has]]),
              marker="dash", size=4, line_color=BLUE, line_width=1)
    p.line(x, by, line_color=BLUE, line_width=1.5)
    p.scatter(x, by, marker="square", size=2.5, fill_color=BLUE, line_color=BLUE)

    # gray series with dashed error bars
    glo, ghi = gy - ge, gy + ge
    p.segment(x0=x, y0=glo, x1=x, y1=ghi, line_color=GRAY, line_width=1,
              line_dash="2 1")
    p.scatter(x=np.concatenate([x, x]), y=np.concatenate([glo, ghi]),
              marker="dash", size=4, line_color=GRAY, line_width=1)
    p.line(x, gy, line_color=GRAY, line_width=2)
    p.scatter(x, gy, marker="triangle", size=3.5, fill_color=GRAY, line_color=GRAY)

    xa = p.xaxis[0]
    xa.fixed_location = 0
    xa.ticker = FixedTicker(ticks=X_TICKS, minor_ticks=list(np.arange(0.5, 10.01, 0.5)))
    xa.major_label_standoff = 2
    style_axis(xa)

    ya = p.yaxis[0]
    lo_t = np.ceil(yr[0] / minor_step) * minor_step
    ya.ticker = FixedTicker(ticks=yt, minor_ticks=list(np.arange(lo_t, yr[1], minor_step)))
    ya.major_label_overrides = {t: s for t, s in zip(yt, yl)}
    ya.major_label_standoff = 3
    style_axis(ya)
    return p


ROWS = [(154, 7, 12), (156, 10, 16), (150, 12, 13), (157, 10, 20), (148, 12, 18)]

specs = [
    (P1_BLUE, P1_BLUE_ERR, P1_GRAY, P1_GRAY_ERR, P1_YTICKS, P1_YLABELS, P1_YRANGE, 0.5),
    (P2_BLUE, P2_BLUE_ERR, P2_GRAY, P2_GRAY_ERR, P2_YTICKS, P2_YLABELS, P2_YRANGE, 0.5),
    (P3_BLUE, P3_BLUE_ERR, P3_GRAY, P3_GRAY_ERR, P3_YTICKS, P3_YLABELS, P3_YRANGE, 0.2),
    (P4_BLUE, P4_BLUE_ERR, P4_GRAY, P4_GRAY_ERR, P4_YTICKS, P4_YLABELS, P4_YRANGE, 1.0),
    (P5_BLUE, P5_BLUE_ERR, P5_GRAY, P5_GRAY_ERR, P5_YTICKS, P5_YLABELS, P5_YRANGE, 1.0),
    (P6_BLUE, P6_BLUE_ERR, P6_GRAY, P6_GRAY_ERR, P6_YTICKS, P6_YLABELS, P6_YRANGE, 0.5),
    (P7_BLUE, P7_BLUE_ERR, P7_GRAY, P7_GRAY_ERR, P7_YTICKS, P7_YLABELS, P7_YRANGE, 0.5),
    (P8_BLUE, P8_BLUE_ERR, P8_GRAY, P8_GRAY_ERR, P8_YTICKS, P8_YLABELS, P8_YRANGE, 1.0),
    (P9_BLUE, P9_BLUE_ERR, P9_GRAY, P9_GRAY_ERR, P9_YTICKS, P9_YLABELS, P9_YRANGE, 0.2),
    (P10_BLUE, P10_BLUE_ERR, P10_GRAY, P10_GRAY_ERR, P10_YTICKS, P10_YLABELS, P10_YRANGE, 0.2),
    (P11_BLUE, P11_BLUE_ERR, P11_GRAY, P11_GRAY_ERR, P11_YTICKS, P11_YLABELS, P11_YRANGE, 0.5),
    (P12_BLUE, P12_BLUE_ERR, P12_GRAY, P12_GRAY_ERR, P12_YTICKS, P12_YLABELS, P12_YRANGE, 0.2),
    (P13_BLUE, P13_BLUE_ERR, P13_GRAY, P13_GRAY_ERR, P13_YTICKS, P13_YLABELS, P13_YRANGE, 1.0),
    (P14_BLUE, P14_BLUE_ERR, P14_GRAY, P14_GRAY_ERR, P14_YTICKS, P14_YLABELS, P14_YRANGE, 0.2),
    (P15_BLUE, P15_BLUE_ERR, P15_GRAY, P15_GRAY_ERR, P15_YTICKS, P15_YLABELS, P15_YRANGE, 0.5),
]

rows = []
for r in range(5):
    h, bt, bb = ROWS[r]
    figs = [panel(*specs[3 * r + c], h, bt, bb) for c in range(3)]
    rows.append(row(*figs))

layout = column(*rows)
open("out.html", "w").write(file_html(layout, INLINE))
